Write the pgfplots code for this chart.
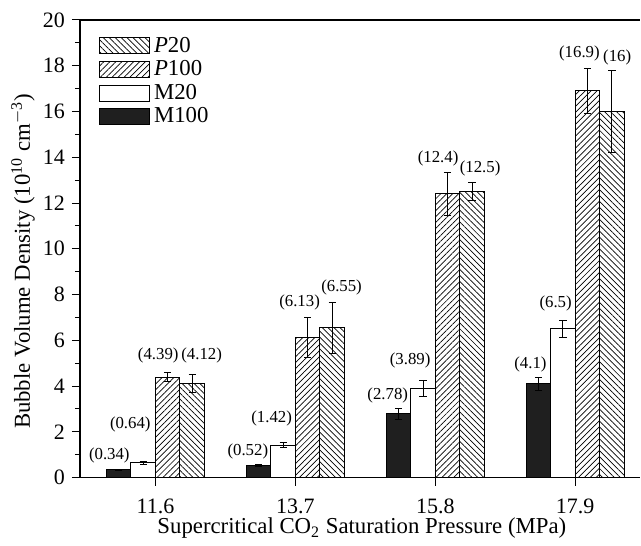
\documentclass[border=0pt]{standalone}
\usepackage{fontspec}
\setmainfont{Liberation Serif}
\usepackage{pgfplots}
\pgfplotsset{compat=1.18}
\usepackage{pgfplotstable}
\usetikzlibrary{patterns.meta}

\pgfplotstableread{
x y e
0 0.34 0.03
1 0.52 0.04
2 2.78 0.25
3 4.10 0.28
}\tMhundred
\pgfplotstableread{
x y e
0 0.64 0.05
1 1.42 0.10
2 3.89 0.35
3 6.50 0.38
}\tMtwenty
\pgfplotstableread{
x y e
0 4.39 0.20
1 6.13 0.88
2 12.4 0.95
3 16.9 1.00
}\tPhundred
\pgfplotstableread{
x y e
0 4.12 0.40
1 6.55 1.12
2 12.5 0.40
3 16.0 1.80
}\tPtwenty

\pgfplotsset{
  errs/.style={error bars/.cd, y dir=both, y explicit,
    error bar style={line width=0.5pt,black},
    error mark options={rotate=90,mark size=1.8pt,line width=0.5pt,black}},
  boxlegend/.style={legend image code/.code={\draw[##1,line width=0.5pt] (0pt,-4pt) rectangle (25pt,4pt);}},
}

\begin{document}
\begin{tikzpicture}
\begin{axis}[
  scale only axis, width=280.5pt, height=229pt,
  xmin=-0.54, xmax=3.466, ymin=0, ymax=20,
  enlargelimits=false,
  axis x line*=box, axis y line*=left,
  xtick pos=left, ytick pos=left,
  tick align=outside,
  major tick length=4pt, minor tick length=2.5pt,
  tick style={black, line width=0.5pt},
  axis line style={line width=0.6pt},
  xtick={0,1,2,3}, xticklabels={11.6,13.7,15.8,17.9},
  ytick={0,2,...,20}, minor ytick={1,3,...,19},
  ticklabel style={font=\fontsize{11}{13}\selectfont},
  xticklabel style={yshift=-3pt},
  /pgf/number format/assume math mode=true,
  xlabel={Supercritical CO\textsubscript{2} Saturation Pressure (MPa)},
  ylabel={Bubble Volume Density (10\textsuperscript{10} cm\textsuperscript{$-$3})},
  label style={font=\fontsize{11.4}{13}\selectfont},
  xlabel style={at={(axis description cs:0.503,0)}, anchor=center, yshift=-25.5pt},
  ylabel style={at={(axis description cs:-0.1016,0.472)}, anchor=center},
  ybar=0pt, bar width=0.175,
  clip=false,
  reverse legend,
  legend style={draw=none, fill=none, at={(0.03,0.977)}, anchor=north west,
    font=\fontsize{11.4}{13}\selectfont, row sep=-1.3pt, inner sep=1pt},
  legend cell align=left,
]
\addplot[draw=black, line width=0.5pt, fill=black!88, boxlegend, errs] table[x=x,y=y,y error=e] {\tMhundred};
\addplot[draw=black, line width=0.5pt, fill=white, boxlegend, errs] table[x=x,y=y,y error=e] {\tMtwenty};
\addplot[draw=black, line width=0.5pt, pattern={Lines[angle=45,distance=2.1pt,line width=0.35pt]}, boxlegend, errs] table[x=x,y=y,y error=e] {\tPhundred};
\addplot[draw=black, line width=0.5pt, pattern={Lines[angle=-45,distance=2.1pt,line width=0.35pt]}, boxlegend, errs] table[x=x,y=y,y error=e] {\tPtwenty};
\legend{M100, M20, \textit{P}100, \textit{P}20}

\begin{scope}[every node/.style={font=\fontsize{8.4}{10}\selectfont}]
\node at (axis cs:-0.33,0.96) {(0.34)};
\node at (axis cs:-0.18,2.31) {(0.64)};
\node at (axis cs:0.02,5.33) {(4.39)};
\node at (axis cs:0.33,5.33) {(4.12)};
\node at (axis cs:0.66,1.15) {(0.52)};
\node at (axis cs:0.83,2.58) {(1.42)};
\node at (axis cs:1.03,7.66) {(6.13)};
\node at (axis cs:1.33,8.30) {(6.55)};
\node at (axis cs:1.66,3.60) {(2.78)};
\node at (axis cs:1.82,5.10) {(3.89)};
\node at (axis cs:2.02,13.96) {(12.4)};
\node at (axis cs:2.32,13.50) {(12.5)};
\node at (axis cs:2.68,4.95) {(4.1)};
\node at (axis cs:2.86,7.60) {(6.5)};
\node at (axis cs:3.03,18.55) {(16.9)};
\node at (axis cs:3.30,18.35) {(16)};
\end{scope}
\end{axis}
\path ([xshift=-40pt,yshift=-32.5pt]current axis.south west) rectangle ([yshift=10pt]current axis.north east);
\end{tikzpicture}
\end{document}
